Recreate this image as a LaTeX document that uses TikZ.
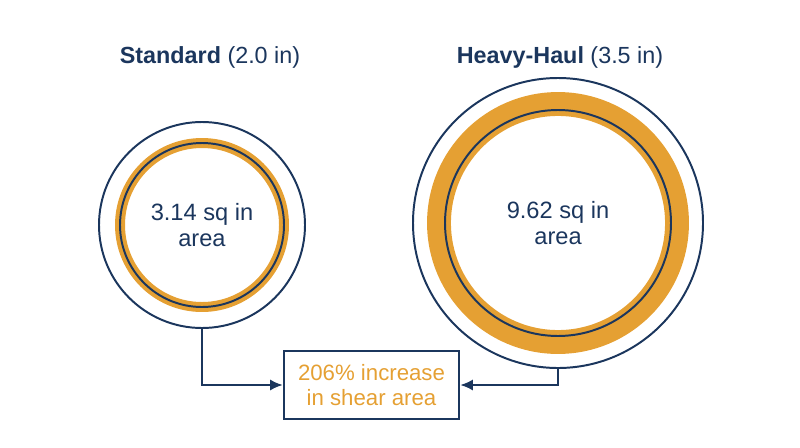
\documentclass[tikz,border=0pt]{standalone}
\usepackage{fontspec}
\setmainfont{Liberation Sans}
\usetikzlibrary{arrows.meta}

\definecolor{navy}{HTML}{1B365D}
\definecolor{gold}{HTML}{E5A033}

\tikzset{
  title/.style={font=\fontsize{16.6}{20}\selectfont, text=navy},
  pipe/.style={circle, draw=navy, line width=1.4pt, inner sep=0pt, outer sep=0pt,
    align=center, text=navy, font=\fontsize{16.8}{18}\selectfont},
  band/.style={draw=gold},
  wall/.style={draw=navy, line width=1.4pt},
  gainbox/.style={draw=navy, line width=1.8pt, minimum width=175*0.025cm,
    minimum height=68*0.025cm, align=center, text=gold, inner sep=0pt,
    font=\fontsize{15.8}{17.7}\selectfont},
  link/.style={navy, line width=1.5pt, -{Latex[length=9pt, width=8pt]}}
}

\begin{document}
\begin{tikzpicture}[x=0.025cm, y=-0.025cm]

  \useasboundingbox (0, 0) rectangle (800, 447);

  \node[title] (stdTitle) at (210, 57) {\textbf{Standard} (2.0 in)};
  \node[title] (hhTitle) at (560, 57) {\textbf{Heavy-Haul} (3.5 in)};

  % standard pin
  \node[pipe, minimum size=206*0.025cm] (std) at (202, 225) {3.14 sq in\\area};
  \draw[band, line width=7.1pt] (std.center) circle[radius=82];
  \draw[wall] (std.center) circle[radius=82];

  % heavy-haul pin
  \node[pipe, minimum size=290*0.025cm] (hh) at (558, 223) {9.62 sq in\\area};
  \draw[band, line width=17pt] (hh.center) circle[radius=119];
  \draw[wall] (hh.center) circle[radius=113];

  \node[gainbox] (gain) at (371.5, 385) {206\% increase\\in shear area};

  \draw[link] (std.south) |- (gain.west);
  \draw[link] (hh.south) |- (gain.east);

\end{tikzpicture}
\end{document}
